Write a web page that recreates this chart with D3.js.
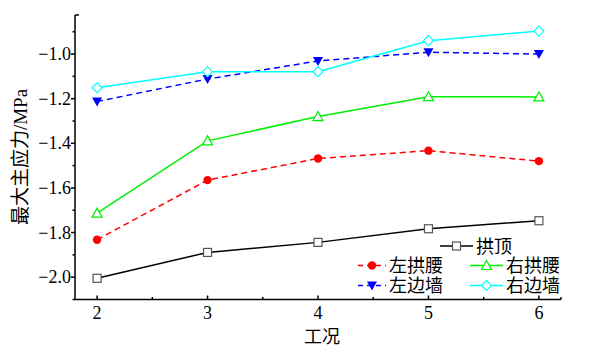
<!DOCTYPE html>
<html><head><meta charset="utf-8">
<script src="https://cdn.jsdelivr.net/npm/d3@7"></script>
<style>body{margin:0;background:#fff}svg{display:block}</style>
</head><body>
<script>
const cases = [2, 3, 4, 5, 6];
const gongding = [-2.005, -1.889, -1.844, -1.783, -1.747];
const zuoGongyao = [-1.832, -1.565, -1.468, -1.433, -1.480];
const youGongyao = [-1.713, -1.389, -1.280, -1.191, -1.192];
const zuoBianqiang = [-1.213, -1.112, -1.031, -0.992, -1.000];
const youBianqiang = [-1.151, -1.079, -1.079, -0.940, -0.897];
const yTicks = [-2.0, -1.8, -1.6, -1.4, -1.2, -1.0];
const yMinor = [-2.1, -1.9, -1.7, -1.5, -1.3, -1.1, -0.9];
const xMinor = [2.5, 3.5, 4.5, 5.5];

const series = [
  {name: "拱顶", values: gongding, color: "#000000", mstroke: "#555", dash: null, marker: "square"},
  {name: "左拱腰", values: zuoGongyao, color: "#ff0000", dash: "6,4", marker: "circle"},
  {name: "右拱腰", values: youGongyao, color: "#00ee00", dash: null, marker: "triangle"},
  {name: "左边墙", values: zuoBianqiang, color: "#0000ff", dash: "6,4", marker: "tridown"},
  {name: "右边墙", values: youBianqiang, color: "#00ffff", dash: null, marker: "diamond"}
];

const W = 596, H = 355;
const svg = d3.select("body").append("svg").attr("width", W).attr("height", H);
const x = d3.scaleLinear().domain([1.8, 6.2]).range([75, 561]);
const y = d3.scaleLinear().domain([-2.1, -0.825]).range([299.5, 15]);
const serif = "'Liberation Serif','Times New Roman',serif";
const cjk = "'Noto Sans CJK SC',sans-serif";
const fmt = v => (v < 0 ? "\u2212" : "") + Math.abs(v).toFixed(1);

// axes
const ax = svg.append("g").attr("stroke", "#000").attr("stroke-width", 1.5);
ax.append("line").attr("x1", x(1.8)).attr("x2", x(1.8)).attr("y1", y(-0.825)).attr("y2", y(-2.1));
ax.append("line").attr("x1", x(1.8)).attr("x2", x(6.2)).attr("y1", y(-2.1)).attr("y2", y(-2.1));
ax.append("line").attr("x1", x(1.8)).attr("x2", x(1.8) + 4).attr("y1", y(-0.825)).attr("y2", y(-0.825));
yTicks.forEach(v => ax.append("line").attr("x1", x(1.8) - 4).attr("x2", x(1.8)).attr("y1", y(v)).attr("y2", y(v)));
yMinor.forEach(v => ax.append("line").attr("x1", x(1.8) - 2.5).attr("x2", x(1.8)).attr("y1", y(v)).attr("y2", y(v)));
cases.forEach(v => ax.append("line").attr("x1", x(v)).attr("x2", x(v)).attr("y1", y(-2.1)).attr("y2", y(-2.1) - 4));
xMinor.concat([6.2]).forEach(v => ax.append("line").attr("x1", x(v)).attr("x2", x(v)).attr("y1", y(-2.1)).attr("y2", y(-2.1) - 2.5));

svg.append("g").selectAll("text").data(yTicks).join("text")
  .attr("x", x(1.8) - 4).attr("y", d => y(d) + 6)
  .attr("text-anchor", "end").attr("font-family", serif).attr("font-size", 18)
  .text(fmt);
svg.append("g").selectAll("text").data(cases).join("text")
  .attr("x", d => x(d)).attr("y", 319)
  .attr("text-anchor", "middle").attr("font-family", serif).attr("font-size", 18)
  .text(d => d);

svg.append("text").attr("transform", "translate(27,157) rotate(-90)")
  .attr("text-anchor", "middle").attr("font-size", 19)
  .html(`<tspan font-family="${cjk}">最大主应力</tspan><tspan font-family="${serif}">/MPa</tspan>`);
svg.append("text").attr("x", 322).attr("y", 343).attr("text-anchor", "middle")
  .attr("font-family", cjk).attr("font-size", 18).text("工况");

function drawMarker(g, type, cx, cy, s) {
  const fillCol = s.color, strk = s.mstroke || s.color;
  if (type === "square") g.append("rect").attr("x", cx - 4).attr("y", cy - 4).attr("width", 8).attr("height", 8)
    .attr("fill", "#fff").attr("stroke", strk).attr("stroke-width", 1.2);
  else if (type === "circle") g.append("circle").attr("cx", cx).attr("cy", cy).attr("r", 4.2).attr("fill", fillCol);
  else if (type === "triangle") g.append("path").attr("d", `M${cx},${cy - 5}L${cx + 5},${cy + 4}L${cx - 5},${cy + 4}Z`)
    .attr("fill", "#fff").attr("stroke", strk).attr("stroke-width", 1.2);
  else if (type === "tridown") g.append("path").attr("d", `M${cx - 5},${cy - 4}L${cx + 5},${cy - 4}L${cx},${cy + 5}Z`)
    .attr("fill", fillCol);
  else if (type === "diamond") g.append("path").attr("d", `M${cx},${cy - 5}L${cx + 5},${cy}L${cx},${cy + 5}L${cx - 5},${cy}Z`)
    .attr("fill", "#fff").attr("stroke", strk).attr("stroke-width", 1.2);
}

const line = d3.line().x((d, i) => x(cases[i])).y(d => y(d));
series.forEach(s => {
  const g = svg.append("g");
  g.append("path").attr("d", line(s.values)).attr("fill", "none")
    .attr("stroke", s.color).attr("stroke-width", 1.5).attr("stroke-dasharray", s.dash);
  s.values.forEach((v, i) => drawMarker(g, s.marker, x(cases[i]), y(v), s));
});

// legend
const leg = [
  {s: series[0], x0: 440, x1: 473, ty: 246},
  {s: series[1], x0: 358, x1: 386, ty: 265.5},
  {s: series[2], x0: 470, x1: 503, ty: 265.5},
  {s: series[3], x0: 358, x1: 386, ty: 285.5},
  {s: series[4], x0: 470, x1: 503, ty: 285.5}
];
leg.forEach(l => {
  const g = svg.append("g");
  g.append("line").attr("x1", l.x0).attr("x2", l.x1).attr("y1", l.ty).attr("y2", l.ty)
    .attr("stroke", l.s.color).attr("stroke-width", 1.5).attr("stroke-dasharray", l.s.dash ? "5,4" : null);
  drawMarker(g, l.s.marker, (l.x0 + l.x1) / 2, l.ty, l.s);
  g.append("text").attr("x", l.x1 + 3).attr("y", l.ty + 6.5).attr("font-family", cjk).attr("font-size", 18).text(l.s.name);
});
</script>
</body></html>
